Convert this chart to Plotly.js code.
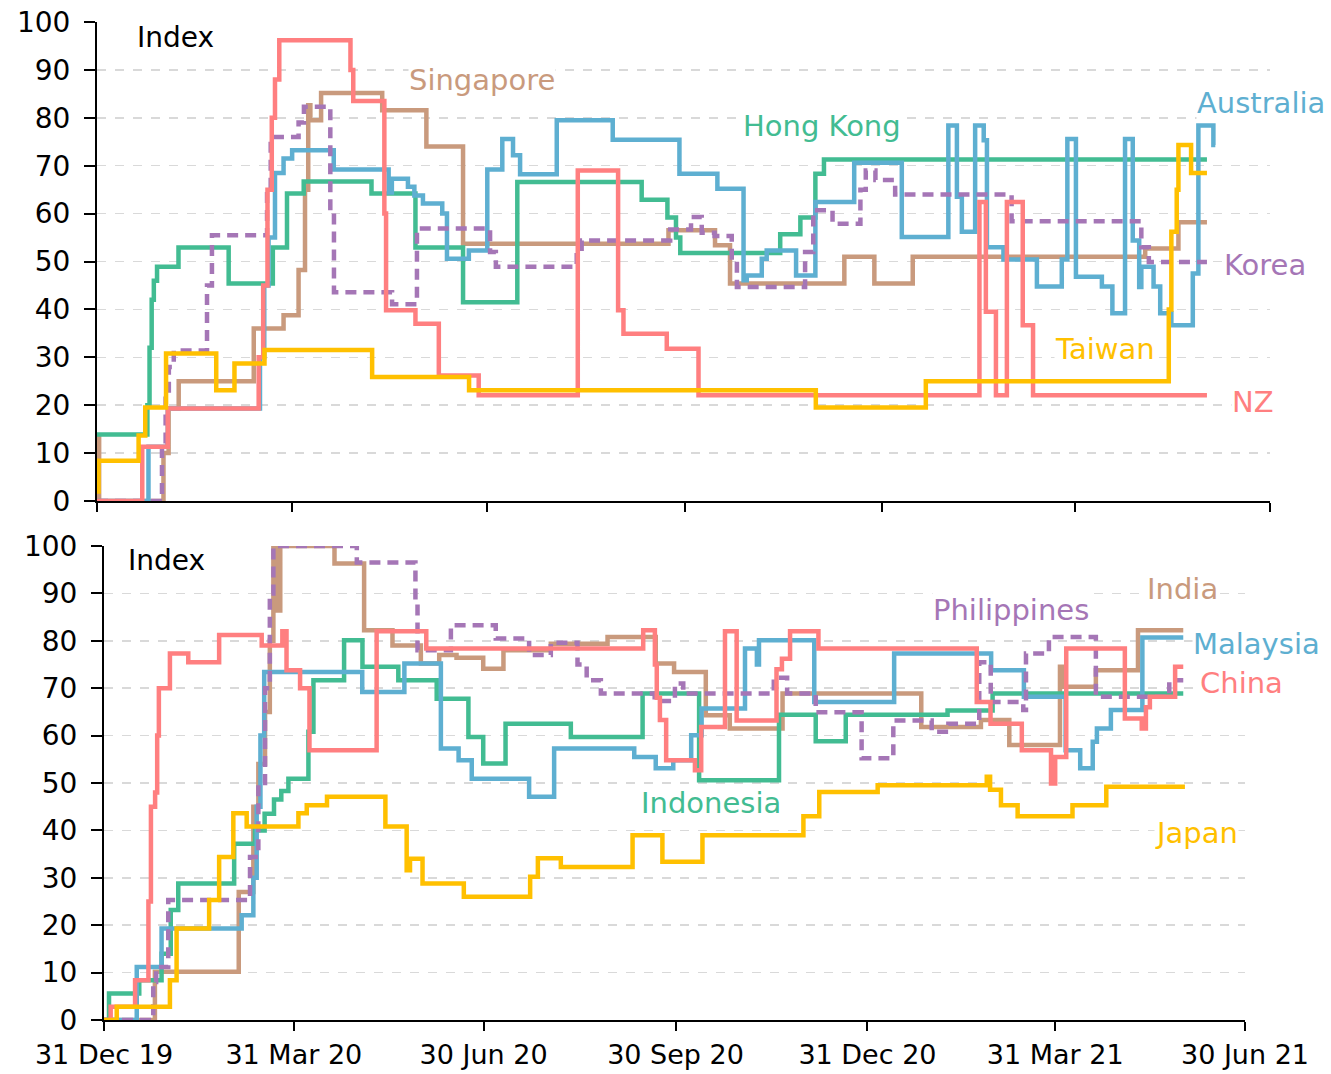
<!DOCTYPE html>
<html>
<head>
<meta charset="utf-8">
<script src="https://cdn.plot.ly/plotly-3.0.1.min.js"></script>
<style>html,body{margin:0;padding:0;background:#fff;}#chart{width:1331px;height:1074px;}</style>
</head>
<body>
<div id="chart"></div>
<script>
// ---------- DATA (x = days since 31 Dec 2019, y = index value; step series) ----------
const tickDates = ['2019-12-31','2020-03-31','2020-06-30','2020-09-30','2020-12-31','2021-03-31','2021-06-30'];
const tickLabels = ['31 Dec 19','31 Mar 20','30 Jun 20','30 Sep 20','31 Dec 20','31 Mar 21','30 Jun 21'];

// Top panel
const nzDays = [0,21.1,33,75.4,77.5,79.5,81.5,83,85,118.2,119.5,134,134.8,148.5,159.4,178,224.2,243,245.5,265.7,280.5,411.5,414.5,419.2,424.3,431.7,436.5,517.6];
const nzVals = [0,11.3,19.3,30,45,65,80,88,96.2,90,83.5,60,39.8,37,26.2,22.1,69,39.8,34.9,31.8,22.1,62.4,39.5,22.1,62.4,36.7,22.1,22.1];

const sgDays = [0,1,31,33.4,38.1,73.1,87,94,97,98.5,99.5,104.5,133,153.6,170.7,266.5,288.2,295.2,348.5,362.5,380.4,488.8,504.3,517.6];
const sgVals = [13.7,0,10,19.3,25,36,38.8,48.2,65,82.6,79.5,85.2,81.6,74,53.7,56.5,53.4,45.4,51,45.4,51,52.7,58.2,58.2];

const hkDays = [0,23.5,24.5,25.5,26.5,28,38,61.4,82,88.6,96.4,128,148.5,170.7,196,254,266,270,272,318.6,328,335,339,517.6];
const hkVals = [13.9,20,32,42,46,48.9,52.9,45.4,52.9,64.2,66.7,64.2,52.9,41.5,66.6,62.9,59.2,55,51.8,55.7,59.2,68.3,71.3,71.3];

const auDays = [0,24,33,76,78,80,83,87,91,110.4,136,137.5,145,148,152,161,163.2,173.4,182,189,194,197.3,214.4,240.5,271.6,289.3,301.5,303,310,312.3,326,335,353.1,375.3,397,401,403.3,409.5,413.5,415,422.7,438.3,449.9,452.5,456.5,468.6,473.5,479.4,483,486,487,492.7,495.8,501,511,513.6,520.6,521.5];
const auVals = [0,11.3,19.3,30,45,55,68.5,71.5,73.2,69.2,64.4,67.3,65.6,63.8,62.1,60,50.6,52.3,69.2,75.6,72.2,68.2,79.5,75.4,68.3,65.2,46.1,47.1,50.6,52.3,47.1,62.4,70.6,55.1,78.4,63.5,56.2,78.4,75.3,53.0,50.4,44.8,50.4,75.6,46.8,44.8,39.2,75.6,54.4,44.7,48.9,44.8,39.2,36.7,47.5,78.4,74.3,74.3];

const krDays = [0,30.3,32,33.5,35.8,51.3,53.6,79.3,81,94,96.5,108.8,110.5,137.6,149.2,183.3,186,223.7,226,267.3,277,282,288,296,298.4,330.2,334,343,356,358.5,363,372.2,426.5,487,490.5,517.6];
const krVals = [0,12,22,28,31.4,45,55.5,65,76,79,82.3,60,43.6,41.1,56.9,52,48.9,52,54.4,56.7,59.3,56,55.3,50,44.7,52,60.7,57.9,65,69,67,64,58.4,53,49.9,49.9];

const twDays = [0,0.7,19.4,22.5,32.2,55.6,64.1,78.1,128.3,173.5,335.2,386.5,499.8,501,503.5,504.3,510.2,517.6];
const twVals = [2,8.4,13.7,19.5,30.8,23.1,28.7,31.5,25.9,23.1,19.5,25,40,56.2,65,74.3,68.5,68.5];

// Bottom panel
const cnDays = [0,3.2,14.9,21.3,22.5,24.5,25.5,26.3,31.6,40.4,55.2,75.6,85.5,87.5,94,98.5,130.7,154.5,258.5,264.1,265,266.5,269.5,283.3,286.3,297.7,303.3,322.4,325,328.9,342.5,418.4,425,440,454,456,461.3,489.4,497.5,499.5,501.4,513.5,517.4];
const cnVals = [0,2.8,8.4,25,45,48,60,70,77.3,75.5,81.2,79,82,73.8,70,56.9,82,78.4,82.2,75,68,63.3,54.8,52.7,61.8,82,63.2,74,76.2,82,78.4,67.1,62.5,56.9,49.9,55.5,78.4,63.6,61.5,66,68.2,74.5,74.5];

const inDays = [0,24.4,64.6,71.6,74,77.2,79.5,81.2,82.5,84.5,110.5,124.7,138.3,151.9,160.7,169,181.8,191.5,214.2,241.4,264.5,273.3,288.5,300,325.3,391.8,420.4,434,458.3,460,475.5,495.7,517.4];
const inVals = [0,10.2,27,45,54,65,80,100,86.4,100,96.3,82.2,79,75.2,77,76.4,74.1,78,79.4,80.8,75.2,73.4,64.3,61.5,68.9,61.8,63.3,58,74.5,70.3,73.8,82.2,82.2];

const myDays = [0,15.7,27.6,66,71.6,73.2,75,76.8,123.8,144,161.5,170,176.3,203.8,215.8,254.2,264.5,272.9,281.5,286.5,307.3,313,314,340.5,378.8,425.3,441,461,468,474,476,482.7,497.8,517.4];
const myVals = [0,11.2,19.3,22.1,30,45,60,73.4,69.2,75.2,57.3,54.8,50.9,47.1,57.3,55.5,53.1,54.8,60.1,65.7,78.4,75,80.1,67.1,77.3,73.8,68.2,56.9,53.1,58.7,61.5,65.4,80.7,80.7];

const idDays = [0,2.4,16.9,27.6,32,35.6,62.4,72.4,77,81.5,85,88.4,98,100.4,115.1,123.9,141.1,159.5,174.7,181.8,192.5,223.8,258.2,285.3,323.6,341.2,355.6,404.4,426,517.4];
const idVals = [0,5.6,8.4,14,23.2,28.8,37.2,40,43.5,46.5,48.3,50.9,60.8,71.7,80.1,74.5,71.7,67.8,59.7,54.1,62.5,59.7,68.9,50.6,64.4,58.8,64.4,65.3,68.9,68.9];

const phDays = [0,23.6,25,30.8,70,74,77.2,79.5,81.2,121.2,149.3,150.3,166.3,187.8,203.8,214.2,227,231.4,238.2,264,273.7,277.7,321.1,327.5,341.2,363.2,378.4,396.8,404.8,419.6,425.1,440.7,442,453,475.5,510.7,517.4];
const phVals = [0,8,11.2,25.3,34.4,50,70,90,100,96.5,88,78,83.3,80.5,77,79.6,75,71.7,68.9,67.3,71,68.9,72.2,68.9,64.9,55.2,63.2,60.8,62.5,75.5,67.1,65.4,77.3,80.8,68.2,71.7,71.7];

const jpDays = [0,6.1,31.6,34.8,50.4,55.2,62,68.4,93.2,97.2,106.9,134.9,145.1,146.7,152.7,172.5,204.3,208,219,253.4,267.7,286.9,335.3,342.9,370.9,423.2,424.8,430,438,464.3,480.5,518.2];
const jpVals = [0,2.8,8.4,19.3,25.3,34.4,43.6,40.8,43.6,45.3,47.1,40.8,31.6,34,28.8,26,30.2,34.1,32.3,39,33.4,39,43,48.1,49.5,51.3,48.6,45.3,43,45.3,49.2,49.2];

// ---------- BUILD ----------
const W = 1331, H = 1074;
const BASE = Date.UTC(2019, 11, 31);
function toDate(d) {
  const t = new Date(BASE + d * 86400000);
  return t.toISOString().slice(0, 16).replace('T', ' ');
}
const C = {red:'#FF7F80', tan:'#C99A7D', green:'#42BC92', blue:'#5EAFD1', purple:'#A576B6', yellow:'#FFC000'};

function mk(days, vals, name, color, xa, ya, dashed) {
  return {
    type: 'scatter', mode: 'lines', name: name,
    x: days.map(toDate), y: vals, xaxis: xa, yaxis: ya,
    line: {color: color, width: 4.5, shape: 'hv', dash: dashed ? '11px,7px' : 'solid'},
    hoverinfo: 'skip', cliponaxis: false
  };
}

const traces = [
  mk(sgDays, sgVals, 'Singapore', C.tan, 'x', 'y'),
  mk(hkDays, hkVals, 'Hong Kong', C.green, 'x', 'y'),
  mk(auDays, auVals, 'Australia', C.blue, 'x', 'y'),
  mk(krDays, krVals, 'Korea', C.purple, 'x', 'y', true),
  mk(nzDays, nzVals, 'NZ', C.red, 'x', 'y'),
  mk(twDays, twVals, 'Taiwan', C.yellow, 'x', 'y'),
  mk(inDays, inVals, 'India', C.tan, 'x2', 'y2'),
  mk(idDays, idVals, 'Indonesia', C.green, 'x2', 'y2'),
  mk(myDays, myVals, 'Malaysia', C.blue, 'x2', 'y2'),
  mk(phDays, phVals, 'Philippines', C.purple, 'x2', 'y2', true),
  mk(cnDays, cnVals, 'China', C.red, 'x2', 'y2'),
  mk(jpDays, jpVals, 'Japan', C.yellow, 'x2', 'y2')
];

function xAxis(l, r, anchor, showLabels) {
  return {
    domain: [l / W, r / W], anchor: anchor, type: 'date',
    range: [tickDates[0], tickDates[tickDates.length - 1]],
    tickmode: 'array', tickvals: tickDates, ticktext: tickLabels,
    showticklabels: showLabels, ticks: 'outside', ticklen: 9, tickwidth: 2, tickcolor: '#000',
    showline: true, linecolor: '#000', linewidth: 2, showgrid: false, zeroline: false,
    tickfont: {size: 27, color: '#000'}, ticklabelstandoff: 1, fixedrange: true
  };
}
function yAxis(top, bottom, anchor) {
  return {
    domain: [1 - bottom / H, 1 - top / H], anchor: anchor, range: [0, 100],
    tickmode: 'linear', tick0: 0, dtick: 10,
    ticks: 'outside', ticklen: 11, tickwidth: 2, tickcolor: '#000',
    showline: true, linecolor: '#000', linewidth: 2,
    showgrid: true, gridcolor: '#D9D9D9', griddash: 'dash', gridwidth: 1.5, zeroline: false,
    tickfont: {size: 28, color: '#000'}, ticklabelstandoff: 8, fixedrange: true
  };
}

function lab(text, px, py, color, size) {
  return {
    text: text, xref: 'paper', yref: 'paper', x: px / W, y: 1 - py / H,
    xanchor: 'center', yanchor: 'middle', showarrow: false,
    font: {size: size || 29, color: color}, bgcolor: '#fff', borderpad: 0
  };
}

const layout = {
  width: W, height: H, margin: {l: 0, r: 0, t: 0, b: 0},
  paper_bgcolor: '#fff', plot_bgcolor: 'rgba(0,0,0,0)', showlegend: false,
  font: {family: 'DejaVu Sans, sans-serif', color: '#000'},
  xaxis: xAxis(97, 1270, 'y', false),
  yaxis: yAxis(22, 501, 'x'),
  xaxis2: xAxis(104, 1245, 'y2', true),
  yaxis2: yAxis(546, 1020, 'x2'),
  annotations: [
    lab('Index', 175, 37, '#000', 28),
    lab('Singapore', 482, 80, C.tan),
    lab('Hong Kong', 822, 126, C.green),
    lab('Australia', 1261, 103, C.blue),
    lab('Korea', 1265, 265, C.purple),
    lab('Taiwan', 1105, 349, C.yellow),
    lab('NZ', 1253, 402, C.red),
    lab('Index', 166, 560, '#000', 28),
    lab('Philippines', 1011, 610, C.purple),
    lab('India', 1182, 589, C.tan),
    lab('Malaysia', 1256, 644, C.blue),
    lab('China', 1241, 683, C.red),
    lab('Indonesia', 711, 803, C.green),
    lab('Japan', 1196, 833, C.yellow)
  ]
};

Plotly.newPlot('chart', traces, layout, {displayModeBar: false, staticPlot: true});
</script>
</body>
</html>
